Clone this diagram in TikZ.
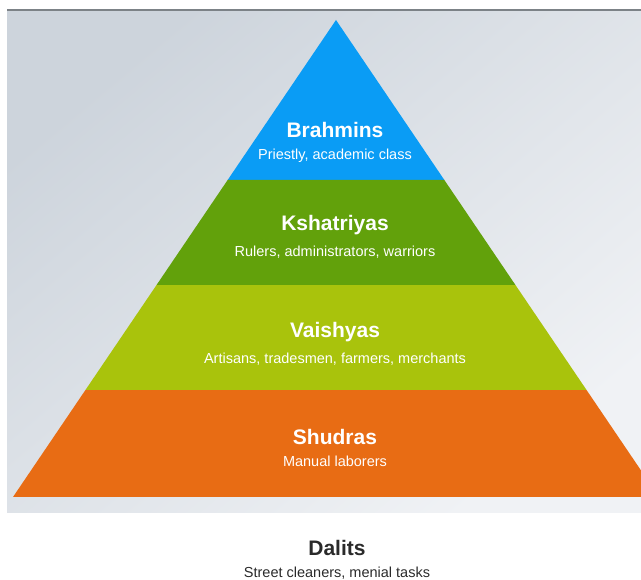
\documentclass[tikz,border=0pt]{standalone}
\usepackage{fontspec}
\setmainfont{Liberation Sans}
\usetikzlibrary{positioning, calc}
\definecolor{panelgrey}{HTML}{CDD4DC}
\definecolor{panellight}{HTML}{F0F2F5}
\definecolor{rulegrey}{HTML}{7C8287}
\definecolor{tierblue}{HTML}{0A9CF5}
\definecolor{tiergreen}{HTML}{62A10B}
\definecolor{tierlime}{HTML}{A9C30C}
\definecolor{tierorange}{HTML}{E86C14}
\definecolor{outcast}{HTML}{2A2A2A}

\tikzset{
  tiertitle/.style={font=\fontsize{21}{24}\selectfont\bfseries, text=white, inner sep=0pt},
  tiersub/.style={font=\fontsize{14.5}{17}\selectfont, text=white, inner sep=0pt},
}

\begin{document}
\begin{tikzpicture}[x=1pt, y=-1pt]
  \useasboundingbox (0,0) rectangle (641,580);
  \clip (0,0) rectangle (641,580);

  % backdrop panel and its top rule
  \shade[top color=panelgrey, bottom color=panellight, shading angle=40]
    (7,11) rectangle (641,513);
  \draw[rulegrey, line width=1.4pt] (7,10) -- (641,10);

  % outline of the pyramid
  \coordinate (apex) at (336,20);
  \coordinate (bl) at (13,497);
  \coordinate (br) at (659,497);

  % tier boundaries along the two sides
  \coordinate (l1) at ($(apex)!0.3354!(bl)$);
  \coordinate (r1) at ($(apex)!0.3354!(br)$);
  \coordinate (l2) at ($(apex)!0.5556!(bl)$);
  \coordinate (r2) at ($(apex)!0.5556!(br)$);
  \coordinate (l3) at ($(apex)!0.7757!(bl)$);
  \coordinate (r3) at ($(apex)!0.7757!(br)$);

  \fill[tierblue] (apex) -- (r1) -- (l1) -- cycle;
  \fill[tiergreen] (l1) -- (r1) -- (r2) -- (l2) -- cycle;
  \fill[tierlime] (l2) -- (r2) -- (r3) -- (l3) -- cycle;
  \fill[tierorange] (l3) -- (r3) -- (br) -- (bl) -- cycle;

  % tier labels
  \node[tiertitle] (brahmins) at (335,130) {Brahmins};
  \node[tiersub, below=11pt of brahmins] (brahminsSub) {Priestly, academic class};

  \node[tiertitle] (kshatriyas) at (335,225) {Kshatriyas};
  \node[tiersub, below=11pt of kshatriyas] (kshatriyasSub) {Rulers, administrators, warriors};

  \node[tiertitle] (vaishyas) at (335,332) {Vaishyas};
  \node[tiersub, below=11pt of vaishyas] (vaishyasSub) {Artisans, tradesmen, farmers, merchants};

  \node[tiertitle] (shudras) at (335,437) {Shudras};
  \node[tiersub, below=11pt of shudras] (shudrasSub) {Manual laborers};

  % outside the pyramid
  \node[tiertitle, text=outcast] (dalits) at (337,548) {Dalits};
  \node[tiersub, text=outcast, below=11pt of dalits] (dalitsSub) {Street cleaners, menial tasks};
\end{tikzpicture}
\end{document}
